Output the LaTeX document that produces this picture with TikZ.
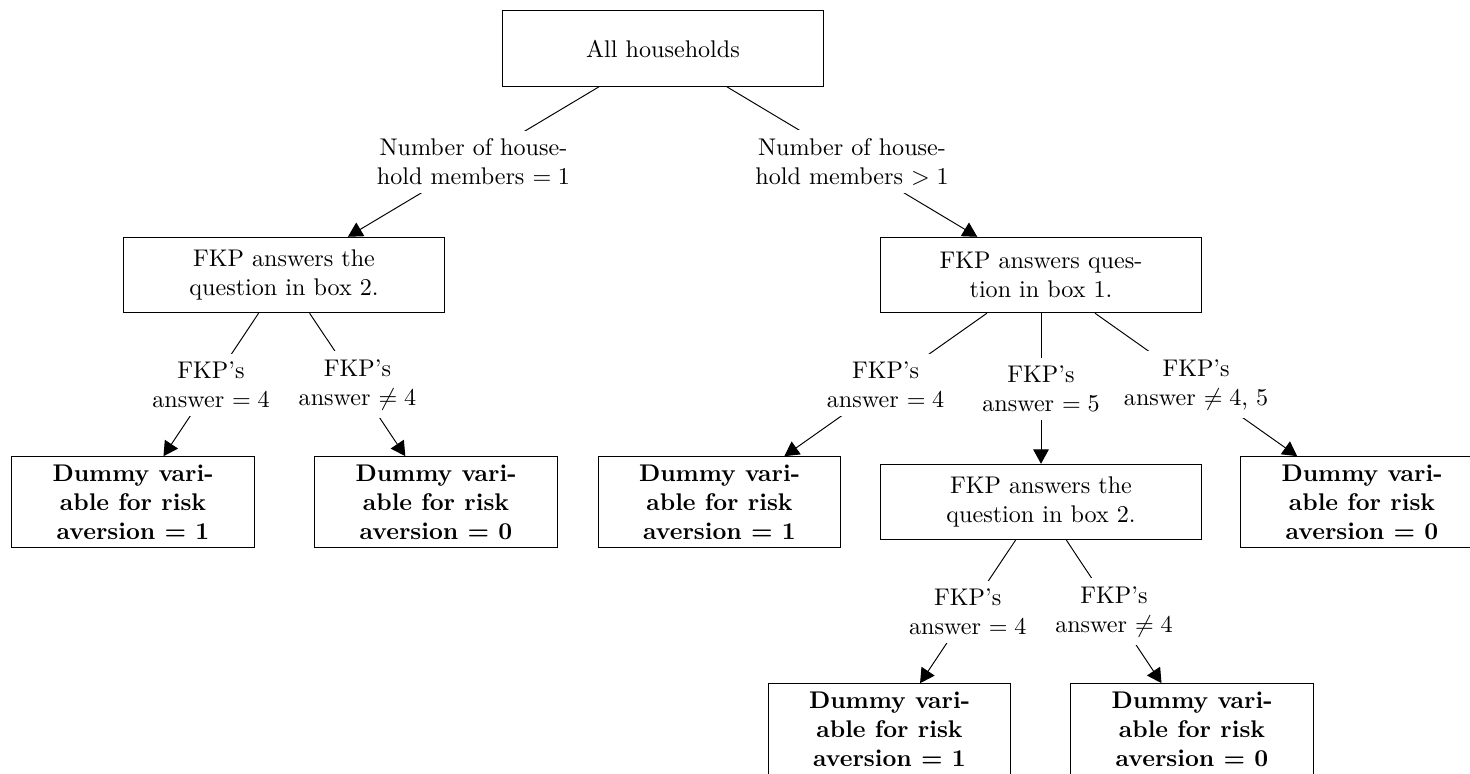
\documentclass[tikz,border=0pt]{standalone}
\usepackage{amsmath}
\usepackage{tikz}
\usetikzlibrary{arrows.meta}

\begin{document}
\begin{tikzpicture}[x=0.4146pt,y=0.4146pt,yscale=-1,xscale=1,
  qbox/.style={draw, align=center, minimum width=132.7pt, minimum height=31.3pt},
  dbox/.style={draw, align=center, font=\bfseries, minimum width=100.7pt},
  cond/.style={fill=white, align=center},
  branch/.style={-{Triangle[length=6pt,width=6.5pt]}}]
%set diagram size to 1470 x 773, lower and right boxes run over the edge
\useasboundingbox (0,0) rectangle (1470,773);
\clip (0,0) rectangle (1470,773);

% Question boxes
\node [qbox] (all) at (663,48.5) {All households};
\node [qbox] (single) at (284,275) {FKP answers the\\question in box 2.};
\node [qbox] (multi) at (1041,275) {FKP answers ques-\\tion in box 1.};
\node [qbox] (second) at (1041,502) {FKP answers the\\question in box 2.};

% Result boxes
\node [dbox] (sone) at (133,502) {Dummy vari-\\able for risk\\aversion = 1};
\node [dbox] (szero) at (436,502) {Dummy vari-\\able for risk\\aversion = 0};
\node [dbox] (mone) at (719.5,502) {Dummy vari-\\able for risk\\aversion = 1};
\node [dbox] (mzero) at (1362,502) {Dummy vari-\\able for risk\\aversion = 0};
\node [dbox] (tone) at (889.5,729) {Dummy vari-\\able for risk\\aversion = 1};
\node [dbox] (tzero) at (1192,729) {Dummy vari-\\able for risk\\aversion = 0};

% Branches with their conditions
\draw [branch] (all) -- node [cond] (hone) {Number of house-\\hold members $=1$} (single);
\draw [branch] (all) -- node [cond] (hmore) {Number of house-\\hold members $>1$} (multi);

\draw [branch] (single) -- node [cond] (sfour) {FKP's\\answer $=4$} (sone);
\draw [branch] (single) -- node [cond] (snot) {FKP's\\answer $\neq 4$} (szero);

\draw [branch] (multi) -- node [cond] (mfour) {FKP's\\answer $=4$} (mone);
\draw [branch] (multi) -- node [cond] (mfive) {FKP's\\answer $=5$} (second);
\draw [branch] (multi) -- node [cond] (mnot) {FKP's\\answer $\neq 4$, 5} (mzero);

\draw [branch] (second) -- node [cond] (tfour) {FKP's\\answer $=4$} (tone);
\draw [branch] (second) -- node [cond] (tnot) {FKP's\\answer $\neq 4$} (tzero);

\end{tikzpicture}
\end{document}
